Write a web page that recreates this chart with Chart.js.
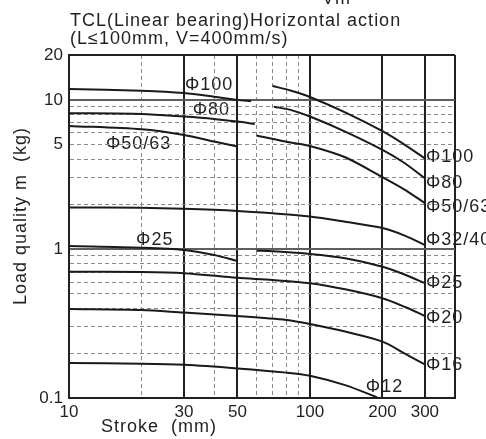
<!DOCTYPE html>
<html>
<head>
<meta charset="utf-8">
<script src="https://cdn.jsdelivr.net/npm/chart.js@4/dist/chart.umd.min.js"></script>
<style>
  html, body { margin: 0; padding: 0; background: #fff; }
  canvas { display: block; }
</style>
</head>
<body>
<canvas id="c" width="486" height="439"></canvas>
<script>
// ---- Data ----
const xTicks = [10, 20, 30, 40, 50, 60, 70, 80, 90, 100, 200, 300, 400];
const xTickLabels = [10, 30, 50, 100, 200, 300];
const xSolid = [10, 30, 50, 100, 200, 300, 400];
const yTicks = [0.1, 0.2, 0.3, 0.4, 0.5, 0.6, 0.7, 0.8, 0.9, 1, 2, 3, 4, 5, 6, 7, 8, 9, 10, 20];
const yTickLabels = [0.1, 1, 5, 10, 20];
const ySolid = [1, 10];

const p100X = [10, 20, 30, 40, 50, 57, 65, 70, 83, 100, 140, 200, 245, 300];
const p100Y = [11.85, 11.5, 11.1, 10.5, 10.0, 9.8, null, 12.4, 11.55, 10.45, 8.24, 6.16, 5.05, 4.05];
const p80X = [10, 20, 30, 40, 50, 59, 65, 71, 83, 100, 140, 200, 245, 300];
const p80Y = [8.14, 8.05, 7.73, 7.45, 7.15, 6.9, null, 9.0, 8.57, 7.73, 6.13, 4.62, 3.8, 2.98];
const p50X = [10, 20, 30, 40, 50, 55, 60, 83, 100, 140, 200, 245, 300];
const p50Y = [6.69, 6.35, 5.82, 5.25, 4.86, null, 5.76, 5.17, 4.91, 4.12, 3.03, 2.52, 2.03];
const p32X = [10, 20, 30, 50, 70, 100, 140, 200, 250, 300];
const p32Y = [1.9, 1.89, 1.86, 1.80, 1.735, 1.65, 1.52, 1.38, 1.22, 1.06];
const p25X = [10, 20, 30, 40, 50, 55, 60, 70, 100, 140, 200, 250, 300];
const p25Y = [1.047, 1.02, 0.985, 0.91, 0.83, null, 0.974, 0.965, 0.926, 0.866, 0.76, 0.669, 0.589];
const p20X = [10, 20, 30, 50, 70, 100, 140, 200, 250, 300];
const p20Y = [0.704, 0.70, 0.687, 0.64, 0.619, 0.589, 0.536, 0.467, 0.406, 0.355];
const p16X = [10, 20, 30, 50, 80, 100, 140, 200, 250, 300];
const p16Y = [0.396, 0.39, 0.374, 0.355, 0.334, 0.314, 0.279, 0.239, 0.197, 0.168];
const p12X = [10, 20, 30, 50, 80, 100, 140, 190];
const p12Y = [0.172, 0.17, 0.167, 0.158, 0.148, 0.141, 0.122, 0.101];

// curve labels anchored in data coordinates (stroke, load)
const labelTexts = ['Φ100', 'Φ80', 'Φ50/63', 'Φ25', 'Φ100', 'Φ80', 'Φ50/63', 'Φ32/40', 'Φ25', 'Φ20', 'Φ16', 'Φ12'];
const labelX =     [30,     32.3,  14.1,     18.8,  300,    300,   300,      300,      300,   300,   300,   169];
const labelY =     [12.5,   8.57,  5.09,     1.15,  4.11,   2.77,  1.92,     1.15,     0.59,  0.344, 0.166, 0.1176];

const titleLines = ['TCL(Linear bearing)Horizontal action', '(L≤100mm, V=400mm/s)'];
const xTitle = 'Stroke  (mm)';
const yTitle = 'Load quality m  (kg)';

// ---- Build ----
const series = [
  [p100X, p100Y], [p80X, p80Y], [p50X, p50Y], [p32X, p32Y],
  [p25X, p25Y], [p20X, p20Y], [p16X, p16Y], [p12X, p12Y]
];
const datasets = series.map(([xs, ys]) => ({
  data: xs.map((x, i) => ({ x: x, y: ys[i] })),
  borderColor: '#1a1a1a',
  borderWidth: 2,
  pointRadius: 0,
  fill: false,
  spanGaps: false,
  tension: 0.3
}));

const FONT = '"Liberation Sans", Arial, Helvetica, sans-serif';
const INK = '#231f20';

const textPlugin = {
  id: 'textPlugin',
  beforeDraw(chart) {
    const ctx = chart.ctx;
    const xs = chart.scales.x, ys = chart.scales.y;
    ctx.save();
    ctx.fillStyle = INK;
    ctx.font = '18px ' + FONT;
    try { ctx.letterSpacing = '1px'; } catch (e) {}
    ctx.textAlign = 'left';
    ctx.textBaseline = 'alphabetic';
    ctx.fillText('Vm', 322, 4);
    ctx.fillText(titleLines[0], 70, 26);
    ctx.fillText(titleLines[1], 70, 44);
    // curve labels
    ctx.textBaseline = 'middle';
    for (let i = 0; i < labelTexts.length; i++) {
      const px = xs.getPixelForValue(labelX[i]) + 1;
      const py = ys.getPixelForValue(labelY[i]);
      ctx.fillText(labelTexts[i], px, py);
    }
    // axis titles
    ctx.textAlign = 'center';
    ctx.fillText(xTitle, 159, 427);
    ctx.translate(21, 216);
    ctx.rotate(-Math.PI / 2);
    ctx.fillText(yTitle, 0, 0);
    ctx.restore();
  }
};

const tickVal = (c) => (c && c.tick) ? c.tick.value : undefined;

new Chart(document.getElementById('c'), {
  type: 'line',
  data: { datasets },
  plugins: [textPlugin],
  options: {
    responsive: false,
    devicePixelRatio: 1,
    animation: false,
    events: [],
    layout: { padding: { top: 55, right: 31, left: 0, bottom: 0 } },
    plugins: { legend: { display: false }, tooltip: { enabled: false } },
    scales: {
      x: {
        type: 'logarithmic',
        min: 10, max: 400,
        afterBuildTicks: (s) => { s.ticks = xTicks.map(v => ({ value: v })); },
        afterFit: (s) => { s.height = 41; },
        ticks: {
          autoSkip: false, maxRotation: 0, minRotation: 0, padding: 4,
          color: INK, font: { size: 17, family: FONT },
          callback: (v) => xTickLabels.includes(v) ? String(v) : ''
        },
        grid: {
          drawTicks: false,
          color: (c) => xSolid.includes(tickVal(c)) ? '#231f20' : '#8a8a8a',
          lineWidth: (c) => xSolid.includes(tickVal(c)) ? 2 : 1
        },
        border: {
          display: true, color: '#231f20', width: 2,
          dash: (c) => { const v = tickVal(c); return (v === undefined || xSolid.includes(v)) ? [] : [4, 3]; }
        }
      },
      y: {
        type: 'logarithmic',
        min: 0.1, max: 20,
        afterBuildTicks: (s) => { s.ticks = yTicks.map(v => ({ value: v })); },
        afterFit: (s) => { s.width = 69; },
        ticks: {
          autoSkip: false, padding: 6,
          color: INK, font: { size: 17, family: FONT },
          callback: (v) => yTickLabels.includes(v) ? String(v) : ''
        },
        grid: {
          drawTicks: false,
          color: (c) => { const v = tickVal(c); if (v === 20 || v === 0.1) return '#231f20'; return ySolid.includes(v) ? '#5e5e5e' : '#8a8a8a'; },
          lineWidth: (c) => { const v = tickVal(c); return (v === 20 || v === 0.1 || ySolid.includes(v)) ? 2 : 1; }
        },
        border: {
          display: true, color: '#231f20', width: 2,
          dash: (c) => { const v = tickVal(c); return (v === undefined || v === 20 || v === 0.1 || ySolid.includes(v)) ? [] : [4, 3]; }
        }
      }
    }
  }
});
</script>
</body>
</html>
